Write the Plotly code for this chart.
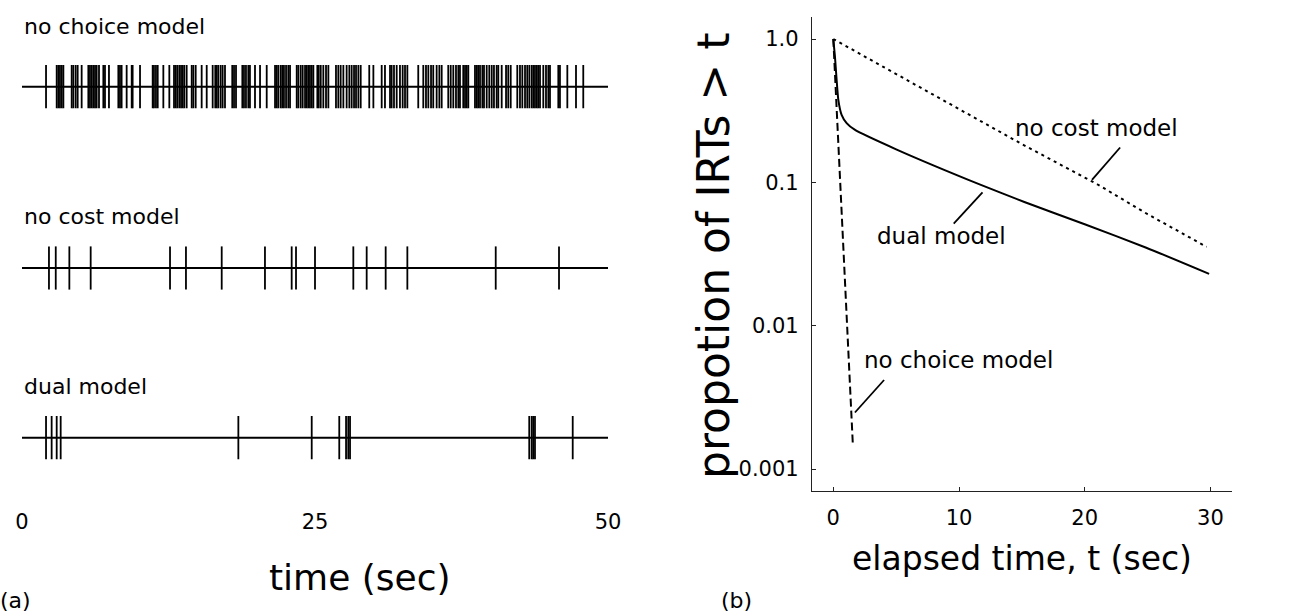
import math
import plotly.graph_objects as go

W, H = 1293, 614
FONT = "DejaVu Sans"

# ---------------- (a) response rasters: event times in seconds ----------------
WINDOW = [0, 50]
RASTER_TICKS = [0, 25, 50]

no_choice_times = [
    2.05, 2.96, 3.10, 3.24, 3.39, 3.53, 4.24, 4.38, 4.58, 4.75, 5.09, 5.66, 5.80,
    5.95, 6.09, 6.23, 6.37, 6.57, 6.94, 7.08, 7.42, 8.22, 8.36, 8.50, 8.93, 9.36,
    9.44, 10.07, 11.15, 11.26, 11.43, 11.58, 12.06, 12.57, 12.97, 13.11, 13.25,
    13.42, 13.57, 13.71, 13.85, 14.05, 14.48, 14.62, 14.82, 15.33, 15.76, 16.27,
    16.49, 16.61, 16.75, 16.95, 17.12, 17.32, 17.94, 18.09, 18.26, 18.80, 18.94,
    19.11, 19.31, 19.45, 19.88, 20.31, 20.88, 21.59, 21.73, 21.87, 22.07, 22.21,
    22.35, 22.53, 22.72, 22.87, 23.44, 23.58, 23.78, 23.95, 24.15, 24.29, 24.43,
    24.57, 24.72, 24.86, 25.20, 25.32, 25.49, 25.71, 25.94, 26.14, 26.79, 26.99,
    27.19, 27.42, 27.70, 27.93, 28.13, 28.33, 28.50, 28.70, 28.90, 29.63, 29.98,
    30.69, 30.97, 31.40, 31.54, 31.74, 31.97, 32.25, 32.48, 32.68, 32.88, 33.81,
    34.24, 34.47, 34.67, 34.90, 35.09, 35.38, 35.61, 35.81, 36.37, 36.58, 36.80,
    37.03, 37.23, 37.37, 37.65, 37.80, 37.94, 38.08, 38.65, 38.80, 38.93, 39.08,
    39.28, 39.42, 39.65, 39.87, 40.08, 40.27, 40.50, 40.64, 40.93, 41.30, 41.49,
    41.70, 42.26, 42.49, 42.69, 42.92, 43.11, 43.29, 43.49, 43.63, 43.77, 43.92,
    44.05, 44.20, 44.48, 44.71, 44.91, 45.05, 45.76, 45.90, 46.53, 47.27, 47.89,
]
no_cost_times = [
    2.30, 2.88, 4.04, 5.86, 12.63, 13.99, 17.04, 20.73, 23.01, 23.38, 25.00,
    28.27, 29.41, 31.03, 32.88, 40.42, 45.82,
]
dual_times = [
    2.05, 2.53, 2.96, 3.30, 18.46, 24.72, 27.07, 27.65, 27.84, 27.99,
    43.28, 43.49, 43.62, 43.77, 46.99,
]

raster_rows = [
    ("no choice model", no_choice_times),
    ("no cost model", no_cost_times),
    ("dual model", dual_times),
]

# ---------------- (b) survivor functions of inter-response times ----------------
no_cost_t = [0, 5, 10, 15, 20, 21, 25, 29.7]
no_cost_p = [1.0, 0.57, 0.325, 0.185, 0.108, 0.097, 0.060, 0.0355]

dual_t = [0, 0.13, 0.4, 0.66, 1.06, 1.7, 5, 11.74, 15.2, 20, 24.9, 29.9]
dual_p = [1.0, 0.753, 0.376, 0.296, 0.259, 0.233, 0.170, 0.096, 0.073, 0.051, 0.035, 0.023]

no_choice_t = [0, 0.5, 1.0, 1.56]
no_choice_p = [1.0, 0.125, 0.0153, 0.00145]

SURV_XTICKS = [0, 10, 20, 30]
SURV_YTICKS = [1.0, 0.1, 0.01, 0.001]
SURV_YTICKTEXT = ["1.0", "0.1", "0.01", "0.001"]

# curve labels: (text, text position t, text position p, leader from (t,p) to (t,p))
curve_labels = [
    ("no cost model", 20.9, 0.239, (22.82, 0.175), (20.58, 0.104)),
    ("dual model", 8.6, 0.042, (11.87, 0.0851), (9.58, 0.0515)),
    ("no choice model", 10.0, 0.00575, (4.04, 0.00418), (1.72, 0.00248)),
]


def px(x):
    return x / W


def py(y):
    return 1 - y / H


fig = go.Figure()

# raster rows: one y axis per row, all sharing the same time axis
row_centres = [86.7, 268.0, 437.7]
row_half = 24.0
label_y = [26, 217, 387]
for i, (name, times) in enumerate(raster_rows):
    yref = "y" if i == 0 else f"y{i + 1}"
    xs, ys = [], []
    for t in times:
        xs += [t, t, None]
        ys += [-0.9, 0.9, None]
    fig.add_trace(go.Scatter(x=WINDOW, y=[0, 0], mode="lines",
                             line=dict(color="black", width=2),
                             xaxis="x", yaxis=yref, showlegend=False, hoverinfo="skip"))
    fig.add_trace(go.Scatter(x=xs, y=ys, mode="lines",
                             line=dict(color="black", width=1.8),
                             xaxis="x", yaxis=yref, showlegend=False, hoverinfo="skip"))
    c = row_centres[i]
    fig.layout[f"yaxis{'' if i == 0 else i + 1}"] = dict(
        domain=[py(c + row_half), py(c - row_half)], range=[-1, 1],
        visible=False, anchor="x", fixedrange=True)
    fig.add_annotation(text=name, xref="paper", yref="paper", x=px(22), y=py(label_y[i]),
                       xanchor="left", yanchor="middle", showarrow=False,
                       font=dict(family=FONT, size=22, color="black"))

# survivor curves
fig.add_trace(go.Scatter(x=no_cost_t, y=no_cost_p, mode="lines",
                         line=dict(color="black", width=2, dash="3px,4px"),
                         xaxis="x2", yaxis="y4", showlegend=False))
fig.add_trace(go.Scatter(x=dual_t, y=dual_p, mode="lines",
                         line=dict(color="black", width=2, shape="spline", smoothing=0.5),
                         xaxis="x2", yaxis="y4", showlegend=False))
fig.add_trace(go.Scatter(x=no_choice_t, y=no_choice_p, mode="lines",
                         line=dict(color="black", width=2, dash="8px,4px"),
                         xaxis="x2", yaxis="y4", showlegend=False))

for text, tx, tp, a, b in curve_labels:
    fig.add_trace(go.Scatter(x=[a[0], b[0]], y=[a[1], b[1]], mode="lines",
                             line=dict(color="black", width=1.8),
                             xaxis="x2", yaxis="y4", showlegend=False, hoverinfo="skip"))
    fig.add_annotation(text=text, xref="x2", yref="y4", x=tx, y=math.log10(tp),
                       xanchor="center", yanchor="middle", showarrow=False,
                       font=dict(family=FONT, size=23, color="black"))

# panel letters, the raster time label and the survivor-axis label
for text, x, y, size, angle in [("(a)", 15, 600, 22, 0), ("(b)", 736, 600, 22, 0),
                                ("time (sec)", 360, 577, 36, 0),
                                ("propotion of IRTs > t", 714, 256, 44, -90)]:
    fig.add_annotation(text=text, xref="paper", yref="paper", x=px(x), y=py(y),
                       xanchor="center", yanchor="middle", showarrow=False,
                       textangle=angle,
                       font=dict(family=FONT, size=size, color="black"))

axis_font = dict(family=FONT, size=21, color="black")
fig.update_layout(
    width=W, height=H,
    margin=dict(l=0, r=0, t=0, b=0),
    paper_bgcolor="white", plot_bgcolor="white",
    xaxis=dict(domain=[px(10), px(620)], range=[-1.024, 51.024], anchor="y3",
               showline=False, showgrid=False, zeroline=False, ticks="",
               tickvals=RASTER_TICKS, ticktext=[str(v) for v in RASTER_TICKS],
               tickfont=axis_font, ticklabelstandoff=45, fixedrange=True),
    xaxis2=dict(domain=[px(812), px(1232)], range=[-1.695, 31.72], anchor="y4",
                showline=True, linecolor="#222", linewidth=1.3, mirror=False,
                showgrid=False, zeroline=False, ticks="inside", ticklen=4,
                tickwidth=1.2, tickcolor="#222", tickvals=SURV_XTICKS,
                tickfont=axis_font, ticklabelstandoff=8,
                title=dict(text="elapsed time, t (sec)", standoff=17,
                           font=dict(family=FONT, size=33, color="black"))),
    yaxis4=dict(domain=[py(490.7), py(16.7)], type="log", range=[-3.151, 0.1556],
                anchor="x2", showline=True, linecolor="#222", linewidth=1.3,
                showgrid=False, zeroline=False, ticks="inside", ticklen=4,
                tickwidth=1.2, tickcolor="#222", tickvals=SURV_YTICKS,
                ticktext=SURV_YTICKTEXT, tickfont=axis_font, ticklabelstandoff=8),
)

fig.write_html("out.html")
